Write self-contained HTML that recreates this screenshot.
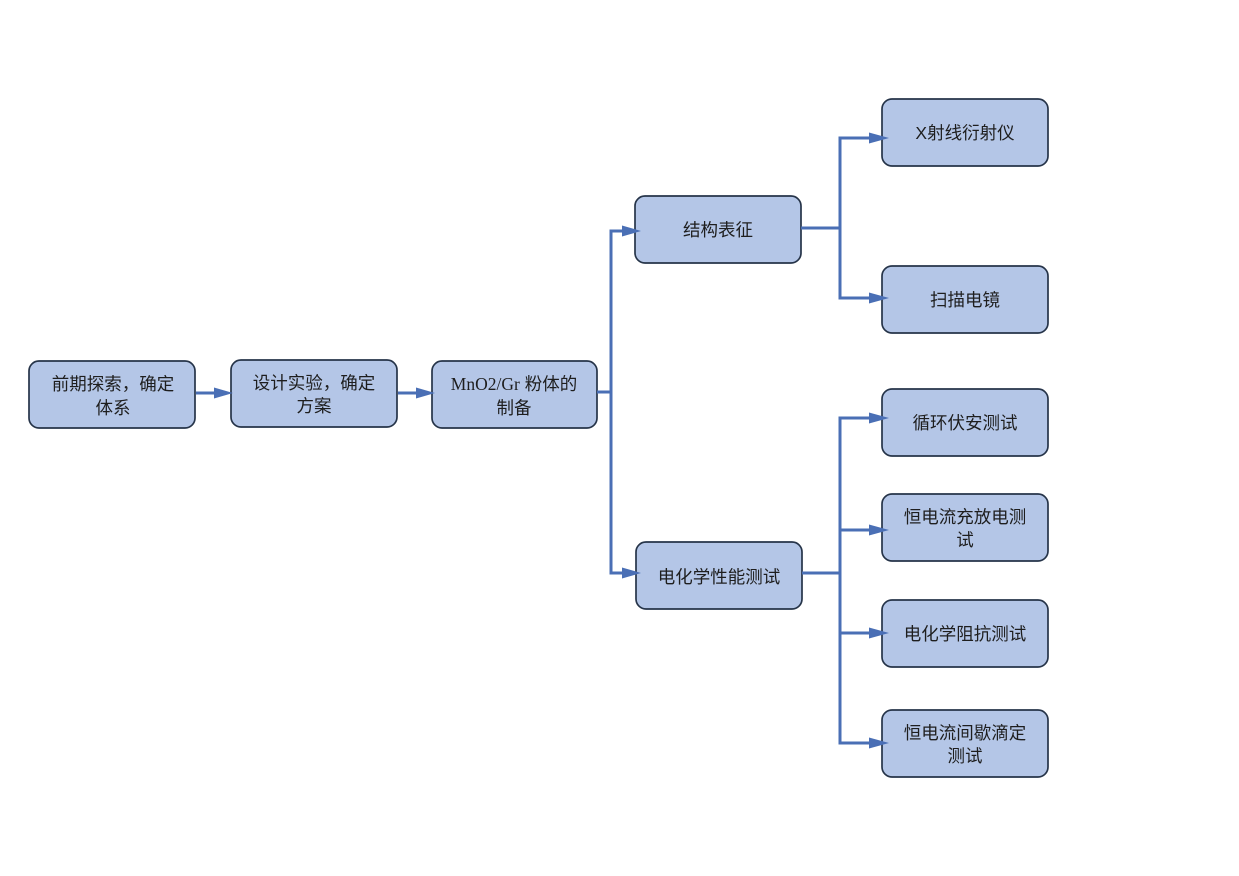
<!DOCTYPE html>
<html>
<head>
<meta charset="utf-8">
<style>
html,body{margin:0;padding:0;background:#fff;}
svg{display:block;}
text{font-family:"Liberation Sans","Noto Sans CJK SC",sans-serif;font-size:17.5px;fill:#1e1e1e;}
.serif{font-family:"Liberation Serif","Noto Sans CJK SC",serif;}
</style>
</head>
<body>
<svg width="1239" height="876" viewBox="0 0 1239 876" xmlns="http://www.w3.org/2000/svg">
<g fill="#b4c6e7" stroke="#263449" stroke-width="1.7">
<rect x="29" y="361" width="166" height="67" rx="10"/>
<rect x="231" y="360" width="166" height="67" rx="10"/>
<rect x="432" y="361" width="165" height="67" rx="10"/>
<rect x="635" y="196" width="166" height="67" rx="10"/>
<rect x="636" y="542" width="166" height="67" rx="10"/>
<rect x="882" y="99" width="166" height="67" rx="10"/>
<rect x="882" y="266" width="166" height="67" rx="10"/>
<rect x="882" y="389" width="166" height="67" rx="10"/>
<rect x="882" y="494" width="166" height="67" rx="10"/>
<rect x="882" y="600" width="166" height="67" rx="10"/>
<rect x="882" y="710" width="166" height="67" rx="10"/>
</g>
<g fill="none" stroke="#4a6fb5" stroke-width="3">
<line x1="196" y1="393" x2="216" y2="393"/>
<line x1="398" y1="393" x2="418" y2="393"/>
<polyline points="597,392 611,392"/>
<polyline points="624,231 611,231 611,573 624,573"/>
<polyline points="801,228 840,228"/>
<polyline points="871,138 840,138 840,298 871,298"/>
<polyline points="802,573 840,573"/>
<polyline points="871,418 840,418 840,743 871,743"/>
<line x1="840" y1="530" x2="871" y2="530"/>
<line x1="840" y1="633" x2="871" y2="633"/>
</g>
<g fill="#4a6fb5">
<polygon points="214,387.5 233,393 214,398.5"/>
<polygon points="416,387.5 435,393 416,398.5"/>
<polygon points="622,225.5 641,231 622,236.5"/>
<polygon points="622,567.5 641,573 622,578.5"/>
<polygon points="869,132.5 889,138 869,143.5"/>
<polygon points="869,292.5 889,298 869,303.5"/>
<polygon points="869,412.5 889,418 869,423.5"/>
<polygon points="869,524.5 889,530 869,535.5"/>
<polygon points="869,627.5 889,633 869,638.5"/>
<polygon points="869,737.5 889,743 869,748.5"/>
</g>
<g text-anchor="middle">
<text x="113" y="390">前期探索，确定</text>
<text x="113" y="414">体系</text>
<text x="314" y="389">设计实验，确定</text>
<text x="314" y="412">方案</text>
<text x="514" y="390"><tspan class="serif">MnO2/Gr</tspan> 粉体的</text>
<text x="514" y="414">制备</text>
<text x="718" y="236">结构表征</text>
<text x="719" y="583">电化学性能测试</text>
<text x="965" y="139">X射线衍射仪</text>
<text x="965" y="306">扫描电镜</text>
<text x="965" y="429">循环伏安测试</text>
<text x="965" y="523">恒电流充放电测</text>
<text x="965" y="546">试</text>
<text x="965" y="640">电化学阻抗测试</text>
<text x="965" y="739">恒电流间歇滴定</text>
<text x="965" y="762">测试</text>
</g>
</svg>
</body>
</html>
